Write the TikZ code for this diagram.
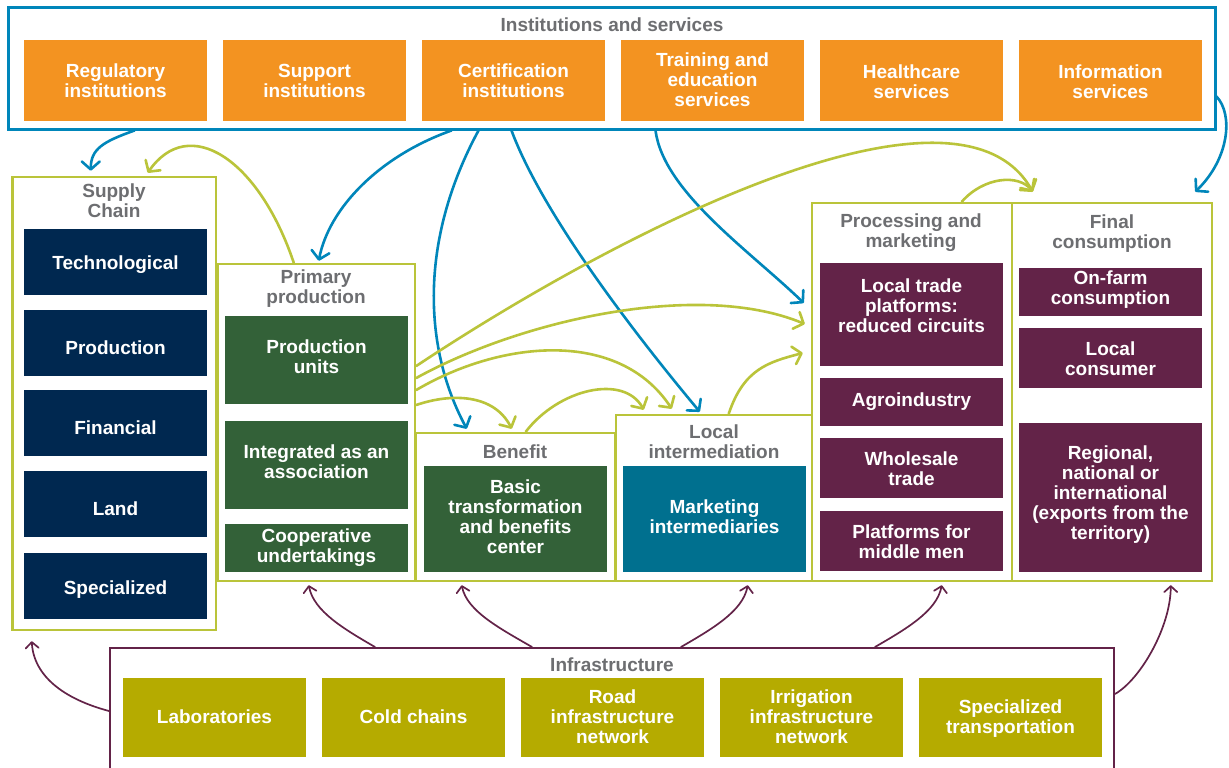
\documentclass[tikz,border=0pt]{standalone}
\usepackage{fontspec}
\setmainfont{Liberation Sans}
\usetikzlibrary{arrows.meta}

\definecolor{instblue}{RGB}{0,134,186}
\definecolor{instorange}{RGB}{243,147,33}
\definecolor{chainnavy}{RGB}{0,40,80}
\definecolor{framelime}{RGB}{186,196,58}
\definecolor{prodgreen}{RGB}{51,97,56}
\definecolor{interteal}{RGB}{0,112,143}
\definecolor{marketplum}{RGB}{99,35,72}
\definecolor{infraolive}{RGB}{181,171,0}
\definecolor{titlegray}{RGB}{109,110,113}

% a filled box with its white label; #7 is the label's vertical position
\newcommand\tile[8]{%
  \node[cellbox, fill=#2, minimum width={(#5-#3)*1pt}, minimum height={(#6-#4)*1pt}]
    (#1) at ({(#3+#5)/2},{(#4+#6)/2}) {};
  \node[celltext] (#1-t) at ({(#3+#5)/2},#7) {#8};}
% an outlined container
\newcommand\panel[7]{%
  \node[frame, draw=#2, line width=#7, minimum width={(#5-#3)*1pt}, minimum height={(#6-#4)*1pt}]
    (#1) at ({(#3+#5)/2},{(#4+#6)/2}) {};}

\begin{document}
\begin{tikzpicture}[x=1pt,y=-1pt,
  cellbox/.style={rectangle, inner sep=0pt, draw=none},
  celltext/.style={text=white, font=\bfseries\fontsize{19}{20}\selectfont, align=center, inner sep=0pt},
  heading/.style={text=titlegray, font=\bfseries\fontsize{19}{20}\selectfont, align=center, inner sep=0pt},
  frame/.style={rectangle, inner sep=0pt, fill=none},
  flowblue/.style={draw=instblue, line width=2.6pt, line cap=round,
    -{Straight Barb[length=8pt,width=18pt,round]}},
  flowlime/.style={draw=framelime, line width=2.6pt, line cap=round,
    -{Straight Barb[length=8pt,width=18pt,round]}},
  flowplum/.style={draw=marketplum, line width=1.7pt, line cap=round,
    -{Straight Barb[length=6pt,width=13pt,round]}}
]
\fill[white] (0,0) rectangle (1229,768);
\useasboundingbox (0,0) rectangle (1229,768);

% containers
\panel{inst}{instblue}{8}{8}{1215}{129}{3pt}
\panel{supply}{framelime}{12.5}{177}{216}{630}{2.5pt}
\panel{primary}{framelime}{218}{264}{415}{581}{2.5pt}
\panel{benefit}{framelime}{416}{433}{615}{581}{2.5pt}
\panel{localint}{framelime}{616}{415}{812}{581}{2.5pt}
\panel{proc}{framelime}{812}{203}{1012}{581}{2.5pt}
\panel{final}{framelime}{1012}{203}{1212}{581}{2.5pt}
\panel{infra}{marketplum}{110}{648}{1114}{790}{2pt}

% container headings
\node[heading] (inst-h) at (612,25) {Institutions and services};
\node[heading] (supply-h) at (114,201) {Supply\\Chain};
\node[heading] (primary-h) at (316,289) {Primary\\production};
\node[heading] (benefit-h) at (515,452) {Benefit};
\node[heading] (localint-h) at (714,442) {Local\\intermediation};
\node[heading] (proc-h) at (911,233) {Processing and\\marketing};
\node[heading] (final-h) at (1112,234) {Final\\consumption};
\node[heading] (infra-h) at (612,665) {Infrastructure};

% institutions and services
\tile{reg}{instorange}{24}{40}{207}{121}{81}{Regulatory\\institutions}
\tile{sup}{instorange}{223}{40}{406}{121}{81}{Support\\institutions}
\tile{cert}{instorange}{422}{40}{605}{121}{81}{Certification\\institutions}
\tile{train}{instorange}{621}{40}{804}{121}{80}{Training and\\education\\services}
\tile{health}{instorange}{820}{40}{1003}{121}{81.5}{Healthcare\\services}
\tile{info}{instorange}{1019}{40}{1202}{121}{81.5}{Information\\services}

% supply chain
\tile{tech}{chainnavy}{24}{229}{207}{295}{265}{Technological}
\tile{prod}{chainnavy}{24}{310}{207}{376}{348}{Production}
\tile{fin}{chainnavy}{24}{390}{207}{456}{428}{Financial}
\tile{land}{chainnavy}{24}{471}{207}{537}{509}{Land}
\tile{spec}{chainnavy}{24}{553}{207}{619}{590}{Specialized}

% primary production and benefit
\tile{pu}{prodgreen}{225}{316}{408}{404}{357}{Production\\units}
\tile{ia}{prodgreen}{225}{421}{408}{509}{462}{Integrated as an\\association}
\tile{cu}{prodgreen}{225}{524}{408}{572}{548}{Cooperative\\undertakings}
\tile{basic}{prodgreen}{424}{466}{607}{572}{517}{Basic\\transformation\\and benefits\\center}

% local intermediation
\tile{mi}{interteal}{623}{466}{806}{572}{517}{Marketing\\intermediaries}

% processing and marketing
\tile{ltp}{marketplum}{820}{263}{1003}{366}{306}{Local trade\\platforms:\\reduced circuits}
\tile{agro}{marketplum}{820}{378}{1003}{426}{402}{Agroindustry}
\tile{whole}{marketplum}{820}{438}{1003}{498}{469}{Wholesale\\trade}
\tile{plat}{marketplum}{820}{511}{1003}{571}{542}{Platforms for\\middle men}

% final consumption
\tile{onfarm}{marketplum}{1019}{268}{1202}{316}{290}{On-farm\\consumption}
\tile{lc}{marketplum}{1019}{328}{1202}{388}{359}{Local\\consumer}
\tile{rni}{marketplum}{1019}{423}{1202}{572}{495}{Regional,\\national or\\international\\(exports from the\\territory)}

% infrastructure
\tile{lab}{infraolive}{123}{678}{306}{757}{717}{Laboratories}
\tile{cold}{infraolive}{322}{678}{505}{757}{717}{Cold chains}
\tile{road}{infraolive}{521}{678}{704}{757}{717}{Road\\infrastructure\\network}
\tile{irr}{infraolive}{720}{678}{903}{757}{717}{Irrigation\\infrastructure\\network}
\tile{st}{infraolive}{919}{678}{1102}{757}{719}{Specialized\\transportation}

% institutional support flows
\draw[flowblue] ([xshift=128pt]inst.south west) .. controls +(-31,11) and +(0,-22) .. ([xshift=79.5pt,yshift=5pt]supply.north west);
\draw[flowblue] ([xshift=445pt]inst.south west) .. controls +(-73,26) and +(10,-52) .. ([xshift=102pt,yshift=2pt]primary.north west);
\draw[flowblue] ([xshift=472pt]inst.south west) .. controls +(-60,111) and +(-43,-80) .. ([xshift=52pt,yshift=3pt]benefit.north west);
\draw[flowblue] ([xshift=505pt]inst.south west) .. controls +(32,86) and +(-61,-73) .. ([xshift=85pt,yshift=2pt]localint.north west);
\draw[flowblue] ([xshift=649pt]inst.south west) .. controls +(8,61) and +(-55,-53) .. ([xshift=-7pt,yshift=89pt]proc.west);
\draw[flowblue] ([yshift=-28pt]inst.east) .. controls +(17,18) and +(34,-33) .. ([xshift=-18pt,yshift=10pt]final.north east);

% product flows
\draw[flowlime] ([xshift=77pt]primary.north west) .. controls +(-35,-104) and +(41,-59) .. ([xshift=136.5pt,yshift=3pt]supply.north west);
\draw[flowlime] ([xshift=151pt]proc.north west) .. controls +(22,-25) and +(-14,-18) .. ([xshift=22pt,yshift=10pt]final.north west);
\draw[flowlime] ([yshift=56.5pt]primary.east) .. controls +(205,-136) and +(-75,-133) .. ([xshift=22pt,yshift=10pt]final.north west);
\draw[flowlime] ([yshift=44.5pt]primary.east) .. controls +(105,-58) and +(-106,-44) .. ([xshift=-6pt,yshift=68pt]proc.west);
\draw[flowlime] ([yshift=32.5pt]primary.east) .. controls +(85,-50) and +(-53,-80) .. ([xshift=57pt,yshift=5pt]localint.north west);
\draw[flowlime] ([yshift=17.5pt]primary.east) .. controls +(35,-12) and +(-18,-35) .. ([xshift=97pt,yshift=3pt]benefit.north west);
\draw[flowlime] ([xshift=111pt]benefit.north west) .. controls +(33,-43) and +(-20,-36) .. ([xshift=29pt,yshift=4pt]localint.north west);
\draw[flowlime] ([xshift=114pt]localint.north west) .. controls +(15,-45) and +(-34,9) .. ([xshift=-8pt,yshift=39pt]proc.west);

% infrastructure flows
\draw[flowplum] ([yshift=-64pt]infra.north west) .. controls +(-45,-12) and +(2,35) .. ([xshift=20.5pt,yshift=-10pt]supply.south west);
\draw[flowplum] ([xshift=266pt]infra.north west) .. controls +(-31,-18) and +(5,26) .. ([xshift=92pt,yshift=-3pt]primary.south west);
\draw[flowplum] ([xshift=423pt]infra.north west) .. controls +(-31,-18) and +(5,26) .. ([xshift=47pt,yshift=-3pt]benefit.south west);
\draw[flowplum] ([xshift=572pt]infra.north west) .. controls +(31,-18) and +(-5,26) .. ([xshift=133pt,yshift=-3pt]localint.south west);
\draw[flowplum] ([xshift=766pt]infra.north west) .. controls +(31,-18) and +(-5,26) .. ([xshift=131pt,yshift=-3pt]proc.south west);
\draw[flowplum] ([yshift=-47pt]infra.north east) .. controls +(26,-15) and +(0,41) .. ([xshift=160pt,yshift=-3pt]final.south west);
\end{tikzpicture}
\end{document}
